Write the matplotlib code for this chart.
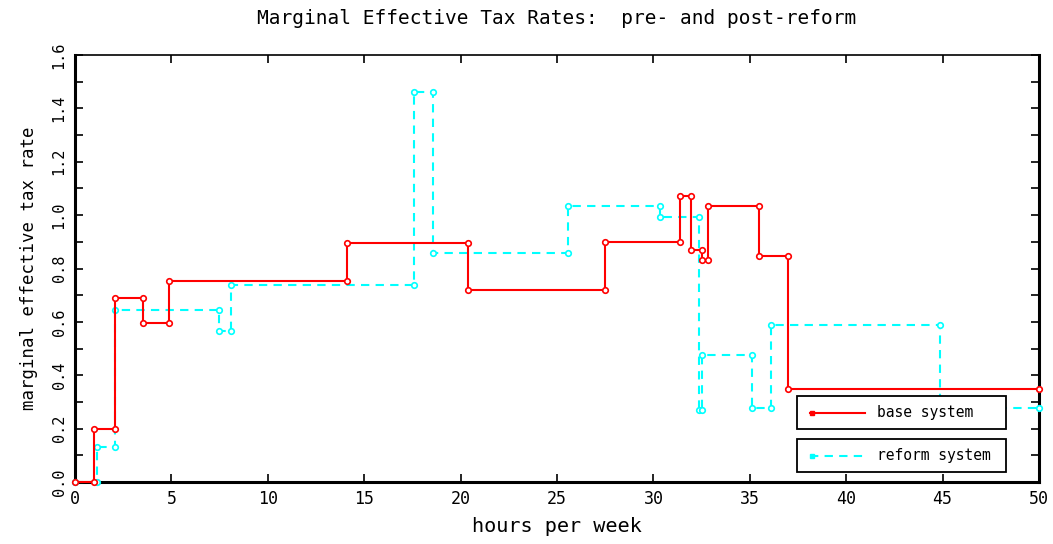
import matplotlib
matplotlib.use("Agg")
import matplotlib.pyplot as plt
from matplotlib.patches import Rectangle
from matplotlib.lines import Line2D

# step data: break points (hours) and the rate that holds until the next break
base_hours = [0, 1.0, 2.1, 3.55, 4.85, 14.1, 20.4, 27.5, 31.4, 31.97, 32.52, 32.83, 35.5, 36.97, 50]
base_rates = [0, 0.2, 0.69, 0.595, 0.755, 0.895, 0.72, 0.9, 1.07, 0.87, 0.83, 1.035, 0.848, 0.348]

reform_hours = [0, 1.12, 2.07, 7.47, 8.11, 17.6, 18.58, 25.57, 30.35, 32.38, 32.52, 35.11, 36.08, 44.86, 50]
reform_rates = [0, 0.132, 0.646, 0.565, 0.737, 1.46, 0.858, 1.033, 0.993, 0.27, 0.475, 0.279, 0.59, 0.279]

xticks = [0, 5, 10, 15, 20, 25, 30, 35, 40, 45, 50]
yticks = [0.0, 0.2, 0.4, 0.6, 0.8, 1.0, 1.2, 1.4, 1.6]

RED = "#ff0000"
CYAN = "#00ffff"
FONT = "DejaVu Sans Mono"


def step_vertices(hours, rates):
    # corner points of the step curve, one pair per segment
    xs, ys = [], []
    for i, r in enumerate(rates):
        xs += [hours[i], hours[i + 1]]
        ys += [r, r]
    return xs, ys


fig = plt.figure(figsize=(10.53, 5.44), dpi=100)
ax = fig.add_axes([75 / 1053, 62 / 544, 964 / 1053, 427 / 544])

rx, ry = step_vertices(reform_hours, reform_rates)
ax.plot(rx, ry, color=CYAN, lw=1.5, ls=(0, (4, 3)), marker="o", ms=4,
        mfc="white", mec=CYAN, mew=1.2, clip_on=False, zorder=3)

bx, by = step_vertices(base_hours, base_rates)
ax.plot(bx, by, color=RED, lw=1.5, marker="o", ms=4,
        mfc="white", mec=RED, mew=1.2, clip_on=False, zorder=4)

ax.set_xlim(0, 50)
ax.set_ylim(0, 1.6)
ax.set_xticks(xticks)
ax.set_xticklabels([str(t) for t in xticks], fontfamily=FONT, fontsize=12)
ax.set_yticks(yticks)
ax.set_yticklabels([f"{t:.1f}" for t in yticks], fontfamily=FONT, fontsize=11,
                   rotation=90, va="center")
ax.set_yticks([0.1, 0.3, 0.5, 0.7, 0.9, 1.1, 1.3, 1.5], minor=True)
ax.tick_params(axis="both", which="major", direction="in", length=6, width=1.2,
               top=True, right=True, pad=6)
ax.tick_params(axis="y", which="minor", direction="in", length=6, width=1.2, right=True)

for side, lw in [("left", 2.2), ("bottom", 2.2), ("right", 2.2), ("top", 1.2)]:
    ax.spines[side].set_linewidth(lw)

ax.set_xlabel("hours per week", fontfamily=FONT, fontsize=14.5, labelpad=6)
ax.set_ylabel("marginal effective tax rate", fontfamily=FONT, fontsize=12.5, labelpad=10)
ax.set_title("Marginal Effective Tax Rates:  pre- and post-reform",
             fontfamily=FONT, fontsize=14, pad=22)

# two separate legend boxes, as in the original
legend_rows = [("base system", RED, "-", 0.124), ("reform system", CYAN, (0, (4, 3)), 0.023)]
for label, color, style, y0 in legend_rows:
    ax.add_patch(Rectangle((0.749, y0), 0.217, 0.077, transform=ax.transAxes,
                           fill=True, fc="white", ec="black", lw=1.3, zorder=5))
    yc = y0 + 0.0385
    ax.add_line(Line2D([0.762, 0.819], [yc, yc], transform=ax.transAxes, color=color,
                       lw=1.5, ls=style, zorder=6))
    ax.add_line(Line2D([0.765], [yc], transform=ax.transAxes, color=color, marker="s",
                       ms=3.5, zorder=6))
    ax.text(0.832, yc, label, transform=ax.transAxes, fontfamily=FONT, fontsize=10.5,
            va="center", ha="left", zorder=6)

fig.savefig("out.png", dpi=100)
